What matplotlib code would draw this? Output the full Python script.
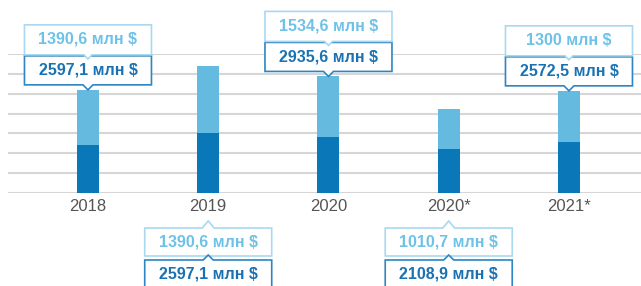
import matplotlib
matplotlib.use('Agg')
import matplotlib.pyplot as plt
import matplotlib.transforms as mtransforms
from matplotlib.patches import Polygon

years = ['2018', '2019', '2020', '2020*', '2021*']
dark_part = [1206.5, 1510.0, 1401.0, 1098.2, 1272.5]
light_part = [1390.6, 1680.0, 1534.6, 1010.7, 1300.0]
light_labels = ['1390,6 млн $', '1390,6 млн $', '1534,6 млн $', '1010,7 млн $', '1300 млн $']
dark_labels = ['2597,1 млн $', '2597,1 млн $', '2935,6 млн $', '2108,9 млн $', '2572,5 млн $']
label_below = [False, True, False, True, False]

DARK = '#0a77b9'
LIGHT = '#65bae0'
LIGHT_TXT = '#6ec2e8'
DARK_TXT = '#1a72b2'
LIGHT_EDGE = '#a9d9f0'
DARK_EDGE = '#2f85c2'

plt.rcParams['font.family'] = ['Liberation Sans', 'DejaVu Sans']

fig = plt.figure(figsize=(6.41, 2.86), dpi=100)
ax = fig.add_axes([8 / 641, 93 / 286, 633 / 641, 139.4 / 286])

x = list(range(len(years)))
ax.bar(x, dark_part, width=0.183, color=DARK, zorder=2)
ax.bar(x, light_part, width=0.183, bottom=dark_part, color=LIGHT, zorder=2)

ax.set_xlim(-0.665, 4.599)
ax.set_ylim(0, 3510)
ax.set_yticks(range(0, 3501, 500))
ax.yaxis.grid(True, color='#d6d6d6', lw=1.5)
ax.set_axisbelow(True)
for s in ax.spines.values():
    s.set_visible(False)
ax.tick_params(axis='y', left=False, labelleft=False)
ax.tick_params(axis='x', length=0, pad=4.5, labelsize=12, labelcolor='#555555')
ax.set_xticks(x)
ax.set_xticklabels(years)


def box(tr, pts, edge):
    ax.add_patch(Polygon(pts, closed=True, transform=tr, facecolor='white',
                         edgecolor=edge, lw=1.2, clip_on=False, zorder=5))


def callout(xc, yv, below, ltxt, dtxt):
    # offsets are in pixels from the anchor point
    tr = mtransforms.ScaledTranslation(xc, yv, ax.transData)
    w = 63.5
    kw = dict(transform=tr, ha='center', va='center', fontsize=11.5,
              clip_on=False, zorder=6)
    if not below:
        box(tr, [(-w, 5), (-5, 5), (0, 0), (5, 5), (w, 5), (w, 34), (-w, 34)], DARK_EDGE)
        box(tr, [(-w, 35), (-4, 35), (0, 31), (4, 35), (w, 35), (w, 65), (-w, 65)], LIGHT_EDGE)
        ax.text(0, 50.5, ltxt, color=LIGHT_TXT, fontweight='semibold', **kw)
        ax.text(0, 19.5, dtxt, color=DARK_TXT, fontweight='bold', **kw)
    else:
        box(tr, [(-w, -35), (-6, -35), (0, -28), (6, -35), (w, -35), (w, -63), (-w, -63)], LIGHT_EDGE)
        box(tr, [(-w, -67), (-5, -67), (0, -62), (5, -67), (w, -67), (w, -100), (-w, -100)], DARK_EDGE)
        ax.text(0, -49, ltxt, color=LIGHT_TXT, fontweight='semibold', **kw)
        ax.text(0, -81, dtxt, color=DARK_TXT, fontweight='bold', **kw)


for i in x:
    if label_below[i]:
        callout(i, 0, True, light_labels[i], dark_labels[i])
    else:
        callout(i, dark_part[i] + light_part[i], False, light_labels[i], dark_labels[i])

fig.savefig('out.png', dpi=100)
